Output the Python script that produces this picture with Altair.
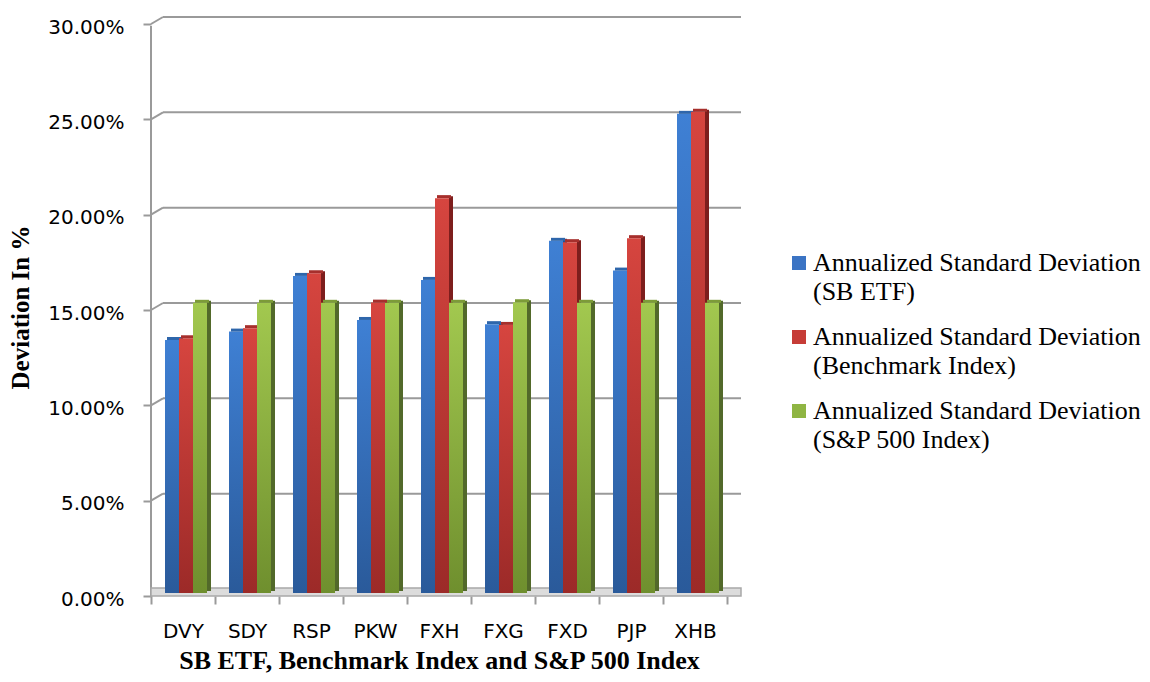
import altair as alt
import pandas as pd

categories = ["DVY", "SDY", "RSP", "PKW", "FXH", "FXG", "FXD", "PJP", "XHB"]
series_names = [
    "Annualized Standard Deviation (SB ETF)",
    "Annualized Standard Deviation (Benchmark Index)",
    "Annualized Standard Deviation (S&P 500 Index)",
]
sb_etf = [13.27, 13.71, 16.63, 14.32, 16.42, 14.10, 18.47, 16.91, 25.13]
benchmark = [13.36, 13.89, 16.77, 15.23, 20.71, 14.06, 18.40, 18.61, 25.24]
sp500 = [15.22, 15.22, 15.22, 15.22, 15.22, 15.25, 15.22, 15.22, 15.22]
y_ticks = [0.0, 0.05, 0.10, 0.15, 0.20, 0.25, 0.30]

legend_colors = ["#3b74c4", "#c63c37", "#8fb543"]
grad_top = ["#3f80d4", "#d6453f", "#a2c84f"]
grad_bottom = ["#2a5a9a", "#9c2a28", "#6f8f2e"]
side_colors = ["#27518b", "#7d1e1d", "#52692a"]
top_colors = ["#2e66ab", "#a62f2c", "#7c9b38"]
series_shift = [-11, 3, 17]  # pixel shift of each series' front face from the band centre

rows = []
for i, c in enumerate(categories):
    for s, vals in zip(series_names, [sb_etf, benchmark, sp500]):
        rows.append({"etf": c, "series": s, "value": vals[i] / 100.0})
df = pd.DataFrame(rows)
ticks_df = pd.DataFrame({"t": y_ticks})

GRID = "#9a9a9a"

x_scale = alt.Scale(domain=categories, paddingInner=0, paddingOuter=0)
y_scale = alt.Scale(domain=[0, 0.30], nice=False, zero=True)

x_axis = alt.Axis(
    title="SB ETF, Benchmark Index and S&P 500 Index",
    titleFont="Liberation Serif", titleFontWeight="bold", titleFontSize=26,
    titleColor="#000", titlePadding=6,
    labelFont="DejaVu Sans", labelFontSize=20, labelColor="#000", labelPadding=17,
    labelAngle=0, domain=False, tickBand="extent", tickSize=8, tickColor=GRID,
    tickWidth=2, offset=3,
)
y_axis = alt.Axis(
    title="Deviation In %",
    titleFont="Liberation Serif", titleFontWeight="bold", titleFontSize=25,
    titleColor="#000", titlePadding=14,
    format=".2%", values=y_ticks, labelFont="DejaVu Sans", labelFontSize=20,
    labelColor="#000", labelPadding=19, labelOffset=3, tickOffset=3,
    tickSize=8, tickColor=GRID, tickWidth=2, domain=False, grid=False,
)

X = alt.X("etf:N", scale=x_scale, sort=categories, axis=x_axis)
Y = alt.Y("value:Q", scale=y_scale, axis=y_axis)

# back-wall gridlines
grid = alt.Chart(ticks_df).mark_rule(color=GRID, strokeWidth=2, yOffset=-4).encode(
    y=alt.Y("t:Q", scale=y_scale, axis=y_axis),
    x=alt.value(12), x2=alt.value(590),
)
# connectors from the front axis ticks to the back wall
conn = alt.Chart(ticks_df).mark_rule(color=GRID, strokeWidth=2, yOffset=3, y2Offset=-4).encode(
    y=alt.Y("t:Q", scale=y_scale, axis=y_axis), y2="t:Q",
    x=alt.value(0), x2=alt.value(12),
)
# front vertical axis line
vaxis = alt.Chart(ticks_df).mark_rule(color=GRID, strokeWidth=2, yOffset=3, y2Offset=5).encode(
    y=alt.Y("min(t):Q", scale=y_scale, axis=y_axis), y2="max(t):Q",
    x=alt.value(0),
)
# floor
floor = alt.Chart(ticks_df).mark_rect(
    color="#dcdcdc", stroke="#a8a8a8", strokeWidth=1.5, yOffset=3, y2Offset=-5
).encode(
    y=alt.Y("min(t):Q", scale=y_scale, axis=y_axis), y2="min(t):Q",
    x=alt.value(0), x2=alt.value(590),
)

# invisible points that carry the legend
legend_layer = alt.Chart(df).mark_square(size=0, opacity=1, filled=True).encode(
    x=X, y=Y,
    color=alt.Color(
        "series:N",
        scale=alt.Scale(domain=series_names, range=legend_colors),
        sort=series_names,
        legend=alt.Legend(
            title=None, orient="none", legendX=635, legendY=229,
            direction="vertical", symbolType="square", symbolSize=196,
            symbolStrokeWidth=0, symbolOpacity=1,
            labelFont="Liberation Serif", labelFontSize=26,
            labelColor="#000", labelLimit=0, labelOffset=1, rowPadding=19,
            labelBaseline="middle", padding=0,
            labelExpr="[slice(datum.label, 0, indexof(datum.label, ' (')), slice(datum.label, indexof(datum.label, ' (') + 1)]",
        ),
    ),
)

layers = [grid, conn, vaxis, floor, legend_layer]
for k, s in enumerate(series_names):
    base = alt.Chart(df).transform_filter(alt.datum.series == s)
    dx = series_shift[k]
    side = base.mark_bar(width=4, xOffset=dx + 9, yOffset=-2, y2Offset=-2,
                         color=side_colors[k]).encode(x=X, y=Y)
    front = base.mark_bar(
        width=14, xOffset=dx,
        color=alt.Gradient(
            gradient="linear", x1=0, y1=0, x2=0, y2=1,
            stops=[alt.GradientStop(offset=0, color=grad_top[k]),
                   alt.GradientStop(offset=1, color=grad_bottom[k])],
        ),
    ).encode(x=X, y=Y)
    top = base.mark_bar(width=14, xOffset=dx + 2, y2Offset=-3,
                        color=top_colors[k]).encode(x=X, y=Y, y2="value:Q")
    layers += [side, front, top]

chart = alt.layer(*layers).properties(
    width=576, height=572,
    padding={"left": 143, "top": 13, "right": 415, "bottom": 81},
    autosize=alt.AutoSizeParams(type="none"),
).configure(
    view={"stroke": None},
    style={"guide-label": {"lineHeight": 29}},
)

chart.save("out.html", embed_options={"renderer": "svg", "actions": False})
